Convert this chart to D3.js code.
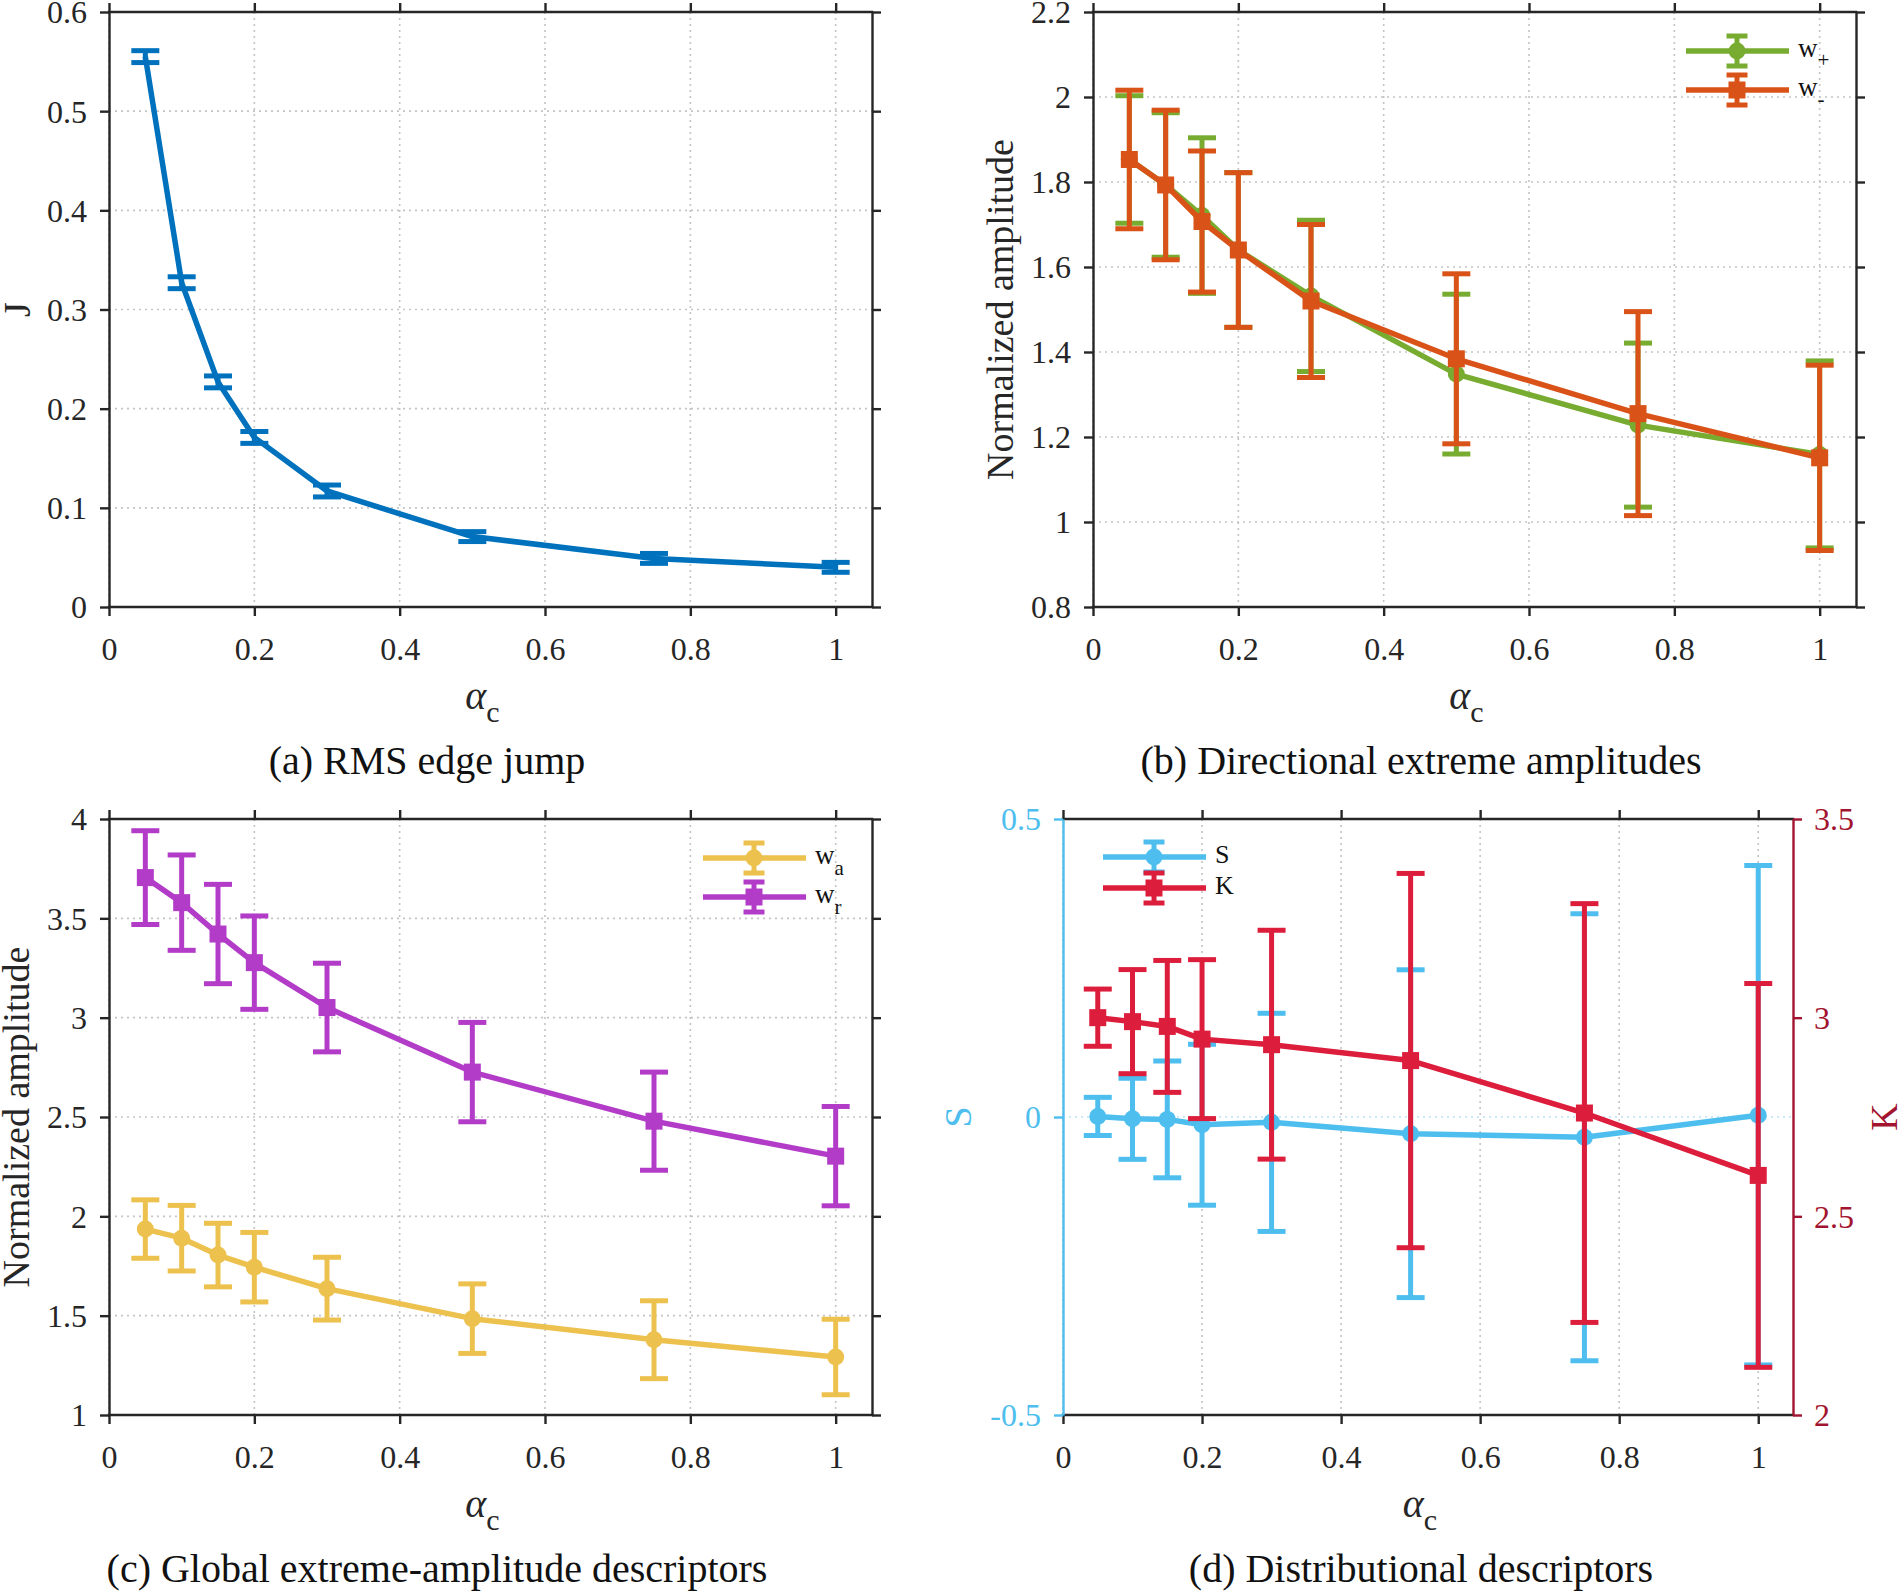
<!DOCTYPE html>
<meta charset="utf-8">
<script src="https://d3js.org/d3.v7.min.js"></script>
<style>
  body { margin: 0; background: #fff; }
</style>
<body>
<svg id="svg" width="1900" height="1593"></svg>
<script>
// x positions (alpha_c)
var alphaC = [0.05, 0.1, 0.15, 0.2, 0.3, 0.5, 0.75, 1];
var xTicks = [0, 0.2, 0.4, 0.6, 0.8, 1];

// (a) RMS edge jump
var J    = [0.555, 0.327, 0.227, 0.171, 0.117, 0.071, 0.049, 0.040];
var Jerr = [0.006, 0.006, 0.006, 0.006, 0.006, 0.005, 0.005, 0.005];
var yTicksA = [0, 0.1, 0.2, 0.3, 0.4, 0.5, 0.6];

// (b) directional extreme amplitudes
var wPlus     = [1.853, 1.793, 1.721, 1.640, 1.532, 1.348, 1.228, 1.159];
var wPlusErr  = [0.150, 0.170, 0.183, 0.182, 0.178, 0.188, 0.193, 0.220];
var wMinus    = [1.853, 1.793, 1.707, 1.640, 1.520, 1.384, 1.255, 1.151];
var wMinusErr = [0.163, 0.176, 0.166, 0.182, 0.180, 0.200, 0.240, 0.218];
var yTicksB = [0.8, 1, 1.2, 1.4, 1.6, 1.8, 2, 2.2];

// (c) global extreme-amplitude descriptors
var wA    = [1.936, 1.890, 1.805, 1.744, 1.636, 1.485, 1.379, 1.292];
var wAerr = [0.147, 0.165, 0.160, 0.175, 0.158, 0.175, 0.196, 0.190];
var wR    = [3.705, 3.579, 3.421, 3.277, 3.051, 2.726, 2.479, 2.303];
var wRerr = [0.236, 0.240, 0.250, 0.235, 0.223, 0.250, 0.247, 0.250];
var yTicksC = [1, 1.5, 2, 2.5, 3, 3.5, 4];

// (d) distributional descriptors
var S    = [0.001, -0.003, -0.004, -0.013, -0.009, -0.028, -0.034, 0.003];
var Serr = [0.032, 0.068, 0.098, 0.135, 0.183, 0.275, 0.375, 0.419];
var K    = [3.000, 2.990, 2.978, 2.946, 2.932, 2.892, 2.760, 2.603];
var Kerr = [0.072, 0.131, 0.166, 0.200, 0.288, 0.471, 0.527, 0.483];
var yTicksS = [-0.5, 0, 0.5];
var yTicksK = [2, 2.5, 3, 3.5];

var FONT = "'Liberation Serif', 'Times New Roman', serif";
var axisColor = "#262626";
var svg = d3.select("#svg");
var fmt = function (d) { return d < 0 ? "-" + Math.abs(d) : String(d); };

function makePanel(p) {
  var g = svg.append("g");
  p.x = d3.scaleLinear().domain([0, 1.05]).range([p.left, p.right]);
  p.y = d3.scaleLinear().domain(p.yDomain).range([p.bottom, p.top]);
  p.g = g;

  // dotted grid
  g.append("g").selectAll("line").data(xTicks).enter().append("line")
    .attr("x1", d => p.x(d)).attr("x2", d => p.x(d))
    .attr("y1", p.top).attr("y2", p.bottom)
    .attr("stroke", "#c4c4c4").attr("stroke-width", 1.6).attr("stroke-dasharray", "2,4");
  g.append("g").selectAll("line").data(p.yTicks).enter().append("line")
    .attr("y1", d => p.y(d)).attr("y2", d => p.y(d))
    .attr("x1", p.left).attr("x2", p.right)
    .attr("stroke", p.gridColor || "#c4c4c4").attr("stroke-width", 1.6).attr("stroke-dasharray", "2,4");
  return p;
}

function drawAxes(p, leftColor, rightAxis) {
  var g = p.g;
  function style(sel, color) {
    sel.attr("font-size", 32).attr("font-family", null).style("color", color);
    sel.selectAll("path, line").attr("stroke-width", 2.4);
  }
  var bottom = g.append("g").attr("transform", "translate(0," + p.bottom + ")")
    .call(d3.axisBottom(p.x).tickValues(xTicks).tickFormat(fmt).tickSize(9).tickSizeOuter(0).tickPadding(21));
  style(bottom, axisColor);
  var top = g.append("g").attr("transform", "translate(0," + p.top + ")")
    .call(d3.axisTop(p.x).tickValues(xTicks).tickFormat("").tickSize(9).tickSizeOuter(0));
  style(top, axisColor);
  var left = g.append("g").attr("transform", "translate(" + p.left + ",0)")
    .call(d3.axisLeft(p.y).tickValues(p.yTicks).tickFormat(fmt).tickSize(9).tickSizeOuter(0).tickPadding(13));
  style(left, leftColor || axisColor);
  left.selectAll("text").attr("dy", "0.34em");
  var right;
  if (rightAxis) {
    right = g.append("g").attr("transform", "translate(" + p.right + ",0)")
      .call(d3.axisRight(rightAxis.scale).tickValues(rightAxis.ticks).tickFormat(fmt).tickSize(9).tickSizeOuter(0).tickPadding(12));
    style(right, rightAxis.color);
    right.selectAll("text").attr("dy", "0.34em");
  } else {
    right = g.append("g").attr("transform", "translate(" + p.right + ",0)")
      .call(d3.axisRight(p.y).tickValues(p.yTicks).tickFormat("").tickSize(9).tickSizeOuter(0));
    style(right, axisColor);
  }
  bottom.select(".domain").attr("d", "M" + (p.left - 1.2) + ",0H" + (p.right + 1.2));
  top.select(".domain").attr("d", "M" + (p.left - 1.2) + ",0H" + (p.right + 1.2));

  // x label alpha_c
  var cx = (p.left + p.right) / 2;
  var xl = g.append("text").attr("x", cx - 8).attr("y", p.bottom + 102)
    .attr("text-anchor", "middle").attr("fill", axisColor).attr("font-size", 40);
  xl.append("tspan").attr("font-style", "italic").text("\u03b1");
  xl.append("tspan").attr("font-size", 30).attr("dy", 13).text("c");

  // caption
  g.append("text").attr("x", p.captionX).attr("y", p.bottom + 167)
    .attr("text-anchor", "middle").attr("fill", "#111").attr("font-size", 40).text(p.caption);
}

function yLabel(p, txt, x, color) {
  p.g.append("text").attr("transform", "translate(" + x + "," + ((p.top + p.bottom) / 2) + ") rotate(-90)")
    .attr("text-anchor", "middle").attr("dy", "0.35em").attr("fill", color || axisColor)
    .attr("font-size", 38).text(txt);
}

function series(p, yScale, vals, errs, color, marker) {
  var g = p.g.append("g");
  var pts = alphaC.map((a, i) => ({ a: a, v: vals[i], e: errs[i] }));
  g.append("path").datum(pts)
    .attr("d", d3.line().x(d => p.x(d.a)).y(d => yScale(d.v)))
    .attr("fill", "none").attr("stroke", color).attr("stroke-width", 5.5).attr("stroke-linejoin", "round");
  var bars = g.selectAll(".eb").data(pts).enter().append("g");
  bars.append("line").attr("x1", d => p.x(d.a)).attr("x2", d => p.x(d.a))
    .attr("y1", d => yScale(d.v - d.e)).attr("y2", d => yScale(d.v + d.e))
    .attr("stroke", color).attr("stroke-width", 5);
  [1, -1].forEach(function (s) {
    bars.append("line").attr("x1", d => p.x(d.a) - 14).attr("x2", d => p.x(d.a) + 14)
      .attr("y1", d => yScale(d.v + s * d.e)).attr("y2", d => yScale(d.v + s * d.e))
      .attr("stroke", color).attr("stroke-width", 5);
  });
  if (marker === "circle") {
    g.selectAll("circle").data(pts).enter().append("circle")
      .attr("cx", d => p.x(d.a)).attr("cy", d => yScale(d.v)).attr("r", 8.5).attr("fill", color);
  } else if (marker === "square") {
    g.selectAll("rect").data(pts).enter().append("rect")
      .attr("x", d => p.x(d.a) - 8.5).attr("y", d => yScale(d.v) - 8.5)
      .attr("width", 17).attr("height", 17).attr("fill", color);
  }
}

function legend(p, items, x0, y0, gap, fs, subFs, subDy) {
  items.forEach(function (it, i) {
    var y = y0 + i * gap;
    var g = p.g.append("g");
    g.append("line").attr("x1", x0).attr("x2", x0 + 103).attr("y1", y).attr("y2", y)
      .attr("stroke", it.color).attr("stroke-width", 5.5);
    var cx = x0 + 51;
    g.append("line").attr("x1", cx).attr("x2", cx).attr("y1", y - 15).attr("y2", y + 15)
      .attr("stroke", it.color).attr("stroke-width", 5);
    [-15, 15].forEach(function (o) {
      g.append("line").attr("x1", cx - 10.5).attr("x2", cx + 10.5).attr("y1", y + o).attr("y2", y + o)
        .attr("stroke", it.color).attr("stroke-width", 5);
    });
    if (it.marker === "circle") g.append("circle").attr("cx", cx).attr("cy", y).attr("r", 8.5).attr("fill", it.color);
    else g.append("rect").attr("x", cx - 8.5).attr("y", y - 8.5).attr("width", 17).attr("height", 17).attr("fill", it.color);
    var t = g.append("text").attr("x", x0 + 112).attr("y", y + 6).attr("font-size", fs).attr("fill", "#111");
    t.append("tspan").text(it.label);
    if (it.sub) t.append("tspan").attr("font-size", subFs).attr("dy", subDy).text(it.sub);
  });
}

// colours
var cBlue = "#0072BD", cGreen = "#77AC30", cOrange = "#D95319",
    cYellow = "#EDC14E", cPurple = "#B23CC8", cSky = "#4DBEEE",
    cCrimson = "#DC1E3C", cDarkRed = "#A2142F";

// (a)
var pa = makePanel({ left: 109, right: 872, top: 12, bottom: 607, yDomain: [0, 0.6], yTicks: yTicksA,
  caption: "(a) RMS edge jump", captionX: 427 });
series(pa, pa.y, J, Jerr, cBlue, null);
drawAxes(pa);
yLabel(pa, "J", 17);

// (b)
var pb = makePanel({ left: 1093, right: 1856, top: 12, bottom: 607, yDomain: [0.8, 2.2], yTicks: yTicksB,
  caption: "(b) Directional extreme amplitudes", captionX: 1421 });
series(pb, pb.y, wPlus, wPlusErr, cGreen, "circle");
series(pb, pb.y, wMinus, wMinusErr, cOrange, "square");
drawAxes(pb);
yLabel(pb, "Normalized amplitude", 1000);
legend(pb, [{ label: "w", sub: "+", color: cGreen, marker: "circle" },
            { label: "w", sub: "-", color: cOrange, marker: "square" }], 1686, 51, 39, 27, 21, 10);

// (c)
var pc = makePanel({ left: 109, right: 872, top: 819, bottom: 1415, yDomain: [1, 4], yTicks: yTicksC,
  caption: "(c) Global extreme-amplitude descriptors", captionX: 437 });
series(pc, pc.y, wA, wAerr, cYellow, "circle");
series(pc, pc.y, wR, wRerr, cPurple, "square");
drawAxes(pc);
yLabel(pc, "Normalized amplitude", 16);
legend(pc, [{ label: "w", sub: "a", color: cYellow, marker: "circle" },
            { label: "w", sub: "r", color: cPurple, marker: "square" }], 703, 858, 39, 27, 21, 11);

// (d)
var pd = makePanel({ left: 1063, right: 1793, top: 819, bottom: 1415, yDomain: [-0.5, 0.5], yTicks: yTicksS,
  gridColor: "#b8e2f5", caption: "(d) Distributional descriptors", captionX: 1421 });
var yK = d3.scaleLinear().domain([2, 3.5]).range([pd.bottom, pd.top]);
series(pd, pd.y, S, Serr, cSky, "circle");
series(pd, yK, K, Kerr, cCrimson, "square");
drawAxes(pd, cSky, { scale: yK, ticks: yTicksK, color: cDarkRed });
yLabel(pd, "S", 958, cSky);
yLabel(pd, "K", 1884, cDarkRed);
legend(pd, [{ label: "S", color: cSky, marker: "circle" },
            { label: "K", color: cCrimson, marker: "square" }], 1103, 857, 31, 26, 20, 10);

// serif everywhere
svg.selectAll("text").style("font-family", FONT);
</script>
</body>
